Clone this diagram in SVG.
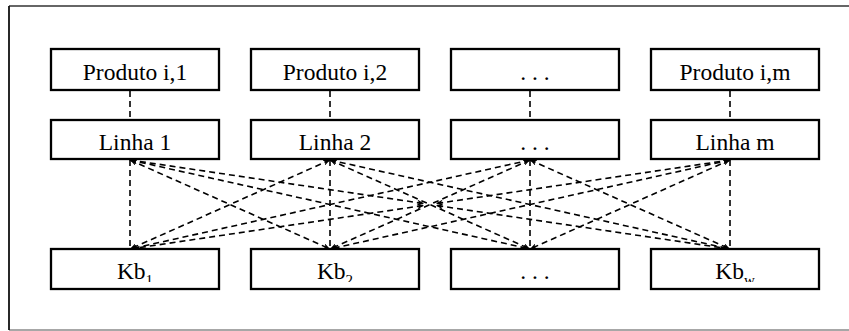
<svg xmlns="http://www.w3.org/2000/svg" width="849" height="331" viewBox="0 0 849 331">
  <defs>
    <marker id="tip" markerUnits="userSpaceOnUse" markerWidth="8" markerHeight="6" refX="7" refY="3" orient="auto-start-reverse">
      <path d="M0,0 L7,3 L0,6 L2,3 z" fill="#000" stroke="none"/>
    </marker>
    <style>
      .box { fill: #fff; stroke: #000; stroke-width: 2.3; }
      .lbl { font-family: "Liberation Serif", "Times New Roman", serif; font-size: 23.5px; fill: #000; text-anchor: middle; }
      .sub { font-size: 15px; }
      .dash { fill: none; stroke: #000; stroke-width: 1.6; stroke-dasharray: 6 4; }
      .diag { marker-start: url(#tip); marker-end: url(#tip); }
    </style>
    <clipPath id="kbclip">
      <rect x="0" y="249" width="849" height="33"/>
    </clipPath>
  </defs>

  <!-- outer frame -->
  <g id="frame">
    <line x1="9" y1="6" x2="849" y2="6" stroke="#333" stroke-width="1.5"/>
    <line x1="9" y1="330" x2="849" y2="330" stroke="#8a8a8a" stroke-width="1.5"/>
    <line x1="9" y1="6" x2="9" y2="330" stroke="#111" stroke-width="1.8"/>
  </g>

  <!-- connectors -->
  <g id="connectors">
    <!-- product to line -->
    <line class="dash" x1="130" y1="91" x2="130" y2="120"/>
    <line class="dash" x1="330" y1="91" x2="330" y2="120"/>
    <line class="dash" x1="530" y1="91" x2="530" y2="120"/>
    <line class="dash" x1="730" y1="91" x2="730" y2="120"/>
    <!-- line to kanban, straight down -->
    <line class="dash" x1="130" y1="160" x2="130" y2="249"/>
    <line class="dash" x1="330" y1="160" x2="330" y2="249"/>
    <line class="dash" x1="530" y1="160" x2="530" y2="249"/>
    <line class="dash" x1="730" y1="160" x2="730" y2="249"/>
    <!-- line to kanban, diagonals -->
    <line class="dash diag" x1="130" y1="160" x2="330" y2="249"/>
    <line class="dash diag" x1="130" y1="160" x2="530" y2="249"/>
    <line class="dash diag" x1="330" y1="160" x2="130" y2="249"/>
    <line class="dash diag" x1="330" y1="160" x2="530" y2="249"/>
    <line class="dash diag" x1="330" y1="160" x2="730" y2="249"/>
    <line class="dash diag" x1="530" y1="160" x2="130" y2="249"/>
    <line class="dash diag" x1="530" y1="160" x2="330" y2="249"/>
    <line class="dash diag" x1="530" y1="160" x2="730" y2="249"/>
    <line class="dash diag" x1="730" y1="160" x2="330" y2="249"/>
    <line class="dash diag" x1="730" y1="160" x2="530" y2="249"/>
    <!-- outer crossings, meeting in the middle -->
    <line class="dash diag" x1="130" y1="160" x2="424" y2="203.6"/>
    <line class="dash diag" x1="130" y1="249" x2="424" y2="205.4"/>
    <line class="dash diag" x1="730" y1="160" x2="436" y2="203.6"/>
    <line class="dash diag" x1="730" y1="249" x2="436" y2="205.4"/>
  </g>

  <!-- products -->
  <g id="produto-1">
    <rect class="box" x="51" y="49" width="168" height="41"/>
    <text class="lbl" x="135" y="80">Produto i,1</text>
  </g>
  <g id="produto-2">
    <rect class="box" x="251" y="49" width="168" height="41"/>
    <text class="lbl" x="335" y="80">Produto i,2</text>
  </g>
  <g id="produto-etc">
    <rect class="box" x="451" y="49" width="168" height="41"/>
    <text class="lbl" x="535" y="80">. . .</text>
  </g>
  <g id="produto-m">
    <rect class="box" x="651" y="49" width="168" height="41"/>
    <text class="lbl" x="735" y="80">Produto i,m</text>
  </g>

  <!-- production lines -->
  <g id="linha-1">
    <rect class="box" x="51" y="120" width="168" height="39"/>
    <text class="lbl" x="135" y="150">Linha 1</text>
  </g>
  <g id="linha-2">
    <rect class="box" x="251" y="120" width="168" height="39"/>
    <text class="lbl" x="335" y="150">Linha 2</text>
  </g>
  <g id="linha-etc">
    <rect class="box" x="451" y="120" width="168" height="39"/>
    <text class="lbl" x="535" y="150">. . .</text>
  </g>
  <g id="linha-m">
    <rect class="box" x="651" y="120" width="168" height="39"/>
    <text class="lbl" x="735" y="150">Linha m</text>
  </g>

  <!-- kanban boards -->
  <g id="kb-1">
    <rect class="box" x="51" y="249" width="168" height="40"/>
    <text class="lbl" x="135" y="279" clip-path="url(#kbclip)">Kb<tspan class="sub" dy="6">1</tspan></text>
  </g>
  <g id="kb-2">
    <rect class="box" x="251" y="249" width="168" height="40"/>
    <text class="lbl" x="335" y="279" clip-path="url(#kbclip)">Kb<tspan class="sub" dy="6">2</tspan></text>
  </g>
  <g id="kb-etc">
    <rect class="box" x="451" y="249" width="168" height="40"/>
    <text class="lbl" x="535" y="279">. . .</text>
  </g>
  <g id="kb-w">
    <rect class="box" x="651" y="249" width="168" height="40"/>
    <text class="lbl" x="735" y="279" clip-path="url(#kbclip)">Kb<tspan class="sub" dy="6">w</tspan></text>
  </g>
</svg>
